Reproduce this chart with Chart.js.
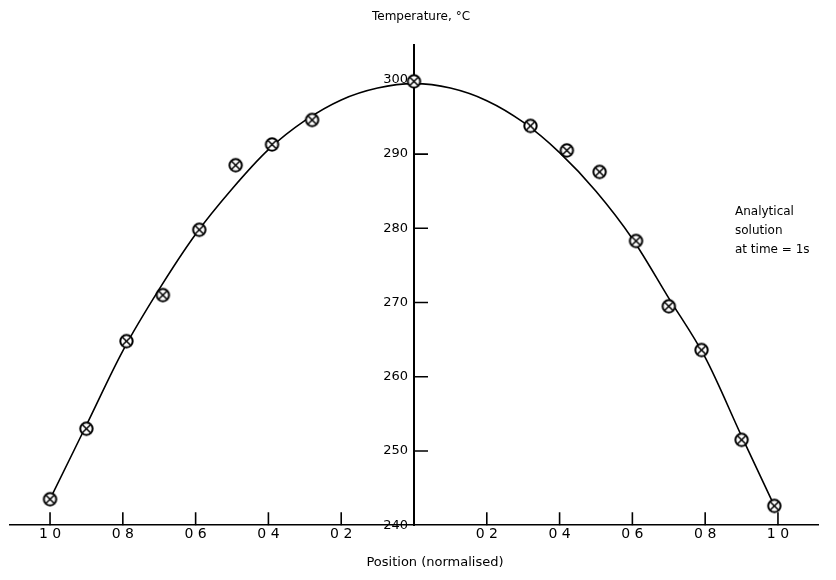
<!DOCTYPE html>
<html><head><meta charset="utf-8">
<script src="https://cdn.jsdelivr.net/npm/chart.js@4/dist/chart.umd.min.js"></script>
<style>html,body{margin:0;padding:0;background:#fff}#wrap{width:836px;height:580px;position:relative}</style>
</head><body><div id="wrap"><canvas id="c"></canvas></div>
<script>
// Analytical solution curve
const curveX = [-1.0, -0.9, -0.8, -0.7, -0.6, -0.5, -0.4, -0.3, -0.2, -0.1, 0, 0.1, 0.2, 0.3, 0.4, 0.5, 0.6, 0.7, 0.8, 0.9, 0.99];
const curveT = [243.5, 253.5, 263.5, 271.8, 279.2, 285.3, 290.6, 294.5, 297.3, 298.9, 299.5, 298.9, 297.2, 294.3, 290.2, 285.0, 278.6, 270.6, 262.6, 252.0, 242.6];
// Computed / measured points (⊗ markers)
const measX = [-1.0, -0.90, -0.79, -0.69, -0.59, -0.49, -0.39, -0.28, 0, 0.32, 0.42, 0.51, 0.61, 0.70, 0.79, 0.90, 0.99];
const measT = [243.5, 253.0, 264.8, 271.0, 279.8, 288.5, 291.3, 294.6, 299.8, 293.8, 290.5, 287.6, 278.3, 269.5, 263.6, 251.5, 242.6];
// Axis ticks
const xTickValues = [-1.0, -0.8, -0.6, -0.4, -0.2, 0.2, 0.4, 0.6, 0.8, 1.0];
const xTickLabels = ['1 0', '0 8', '0 6', '0 4', '0 2', '0 2', '0 4', '0 6', '0 8', '1 0'];
const yTickValues = [240, 250, 260, 270, 280, 290, 300];
const yTickMarks = [250, 260, 270, 280, 290];
// Texts
const yTitle = 'Temperature, °C';
const xTitle = 'Position (normalised)';
const noteLines = ['Analytical', 'solution', 'at time = 1s'];

const FONT = '"DejaVu Sans", "Liberation Sans", sans-serif';

function makeMarker() {
  const s = 19, c = document.createElement('canvas');
  c.width = s; c.height = s;
  const g = c.getContext('2d');
  const m = s / 2, r = 6.2;
  g.fillStyle = '#fff';
  g.beginPath(); g.arc(m, m, r, 0, Math.PI * 2); g.fill();
  g.strokeStyle = '#000'; g.lineWidth = 2;
  g.beginPath(); g.arc(m, m, r, 0, Math.PI * 2); g.stroke();
  g.lineWidth = 1.5;
  const d = 4.3;
  g.beginPath();
  g.moveTo(m - d, m - d); g.lineTo(m + d, m + d);
  g.moveTo(m + d, m - d); g.lineTo(m - d, m + d);
  g.stroke();
  return c;
}

const decor = {
  id: 'decor',
  afterDraw(chart) {
    const ctx = chart.ctx, xs = chart.scales.x, ys = chart.scales.y;
    const axisX = xs.getPixelForValue(0);
    const axisY = chart.chartArea.bottom;
    ctx.save();
    ctx.strokeStyle = '#000';
    ctx.lineWidth = 1.6;
    ctx.beginPath();
    xTickValues.forEach(v => {
      const px = xs.getPixelForValue(v);
      ctx.moveTo(px, axisY); ctx.lineTo(px, axisY - 13);
    });
    yTickMarks.forEach(v => {
      const py = ys.getPixelForValue(v);
      ctx.moveTo(axisX, py); ctx.lineTo(axisX + 14, py);
    });
    ctx.stroke();
    ctx.fillStyle = '#000';
    ctx.textBaseline = 'middle';
    ctx.textAlign = 'center';
    ctx.font = '12px ' + FONT;
    ctx.fillText(yTitle, 421, 17);
    ctx.font = '13px ' + FONT;
    ctx.fillText(xTitle, 435, 563);
    ctx.textAlign = 'left';
    ctx.font = '12px ' + FONT;
    noteLines.forEach((t, i) => ctx.fillText(t, 735, 212 + i * 19));
    ctx.restore();
  }
};

new Chart(document.getElementById('c'), {
  type: 'scatter',
  data: {
    datasets: [
      {
        label: 'Computed',
        data: measX.map((x, i) => ({ x, y: measT[i] })),
        showLine: false,
        pointStyle: makeMarker(),
        pointRadius: 9,
        pointHoverRadius: 9
      },
      {
        label: 'Analytical solution',
        data: curveX.map((x, i) => ({ x, y: curveT[i] })),
        showLine: true,
        borderColor: '#000',
        borderWidth: 1.6,
        pointRadius: 0,
        pointHoverRadius: 0,
        cubicInterpolationMode: 'monotone',
        fill: false
      }
    ]
  },
  options: {
    responsive: true,
    maintainAspectRatio: false,
    animation: false,
    events: [],
    layout: { padding: { left: 6, right: 18, top: 45, bottom: 37 } },
    plugins: { legend: { display: false }, tooltip: { enabled: false }, title: { display: false } },
    scales: {
      x: {
        type: 'linear',
        position: 'bottom',
        min: -1.11,
        max: 1.11,
        afterBuildTicks: s => { s.ticks = xTickValues.map(v => ({ value: v })); },
        ticks: {
          autoSkip: false,
          maxRotation: 0,
          color: '#000',
          padding: 0,
          font: { family: FONT, size: 14 },
          callback: (v) => { const i = xTickValues.indexOf(v); return i >= 0 ? xTickLabels[i] : ''; }
        },
        grid: { display: true, drawOnChartArea: false, drawTicks: true, tickLength: 1, tickColor: 'rgba(0,0,0,0)' },
        border: { display: true, color: '#000', width: 1.6 }
      },
      y: {
        type: 'linear',
        position: 'center',
        min: 240,
        max: 304.7,
        afterBuildTicks: s => { s.ticks = yTickValues.map(v => ({ value: v })); },
        ticks: {
          autoSkip: false,
          color: '#000',
          padding: 2,
          font: { family: FONT, size: 13 },
          callback: v => String(v)
        },
        grid: { display: true, drawOnChartArea: false, drawTicks: true, tickLength: 4, tickColor: 'rgba(0,0,0,0)' },
        border: { display: true, color: '#000', width: 2 }
      }
    }
  },
  plugins: [decor]
});
</script>
</body></html>
